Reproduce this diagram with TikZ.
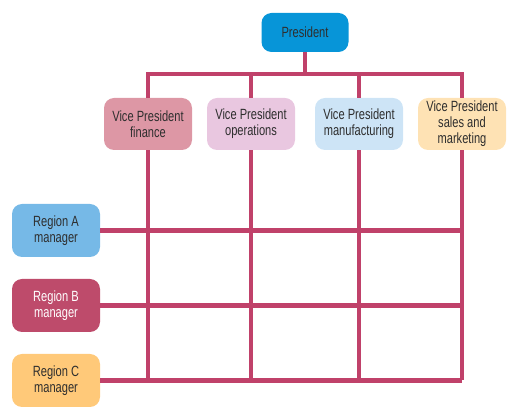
\documentclass[tikz,border=0pt]{standalone}
\usepackage{fontspec}
\setmainfont{Liberation Sans}[FakeStretch=0.75]
\definecolor{linkred}{HTML}{C0416A}
\definecolor{prescol}{HTML}{0795D8}
\definecolor{fincol}{HTML}{DD97A5}
\definecolor{opcol}{HTML}{E9C7E0}
\definecolor{mancol}{HTML}{CDE4F6}
\definecolor{salcol}{HTML}{FEE2B4}
\definecolor{regacol}{HTML}{76B9E7}
\definecolor{regbcol}{HTML}{BE4B6B}
\definecolor{regccol}{HTML}{FFC979}
\definecolor{txtcol}{HTML}{2E2E2E}

\tikzset{
  box/.style={rounded corners=10pt,inner sep=0pt,align=center,text=txtcol,
    font=\fontsize{14.8}{16}\selectfont},
  pbox/.style={box,minimum width=87pt,minimum height=39pt},
  vpbox/.style={box,minimum width=88pt,minimum height=52pt},
  rbox/.style={box,minimum width=88pt,minimum height=53pt},
  link/.style={line width=4.5pt,draw=linkred}
}

\begin{document}
\begin{tikzpicture}[x=1pt,y=-1pt]
  \useasboundingbox (0,0) rectangle (512,411);
  \node[pbox,fill=prescol] (pres) at (305,32.5) {President};
  \node[vpbox,fill=fincol] (vpfin) at (148,124) {Vice President\\finance};
  \node[vpbox,fill=opcol] (vpop) at (251,124) {Vice President\\operations};
  \node[vpbox,fill=mancol] (vpman) at (359,124) {Vice President\\manufacturing};
  \node[vpbox,fill=salcol] (vpsal) at (462,124) {Vice President\\sales and\\marketing};
  \node[rbox,fill=regacol] (rega) at (56,230.5) {Region A\\manager};
  \node[rbox,fill=regbcol,text=white] (regb) at (56,305.5) {Region B\\manager};
  \node[rbox,fill=regccol] (regc) at (56,380.5) {Region C\\manager};
  \coordinate (bar) at (305,74);
  % tree lines
  \draw[link] (pres) -- (bar);
  \draw[link,line cap=rect] (vpfin.north |- bar) -- (vpsal.north |- bar);
  \foreach \v in {vpfin,vpop,vpman,vpsal}
    \draw[link] (\v.north) -- (\v.north |- bar);
  % matrix grid
  \foreach \v in {vpfin,vpop,vpman,vpsal}
    \draw[link] (\v.south) -- (\v.south |- regc.east);
  \foreach \r in {rega,regb,regc}
    \draw[link] (\r.east) -- (vpsal.south |- \r.east);
\end{tikzpicture}
\end{document}
